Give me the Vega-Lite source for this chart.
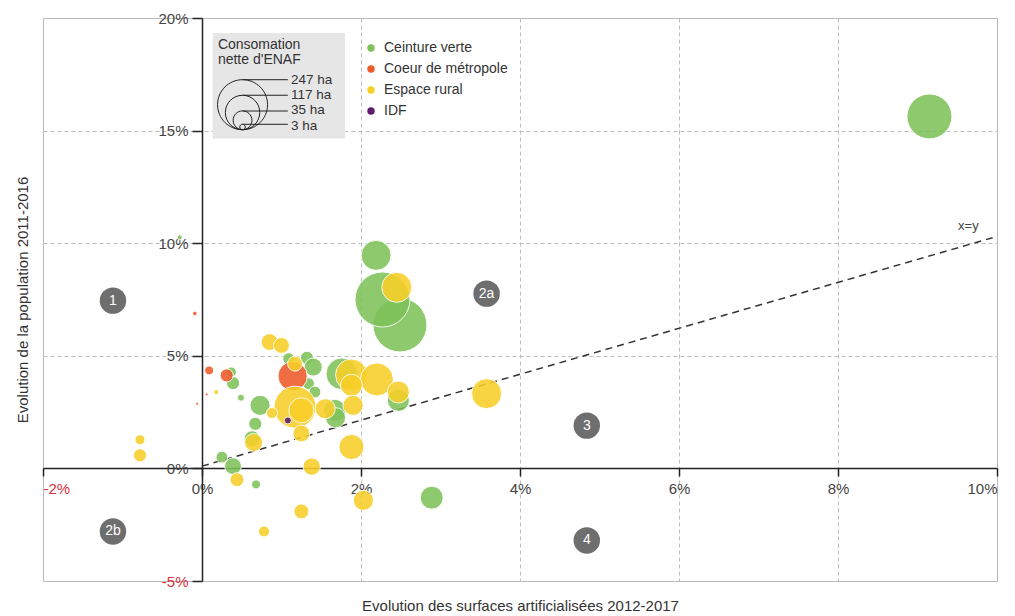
{
  "$schema": "https://vega.github.io/schema/vega-lite/v6.json",
  "width": 954,
  "height": 563,
  "autosize": {"type": "none"},
  "padding": {"left": 43, "top": 18, "right": 18, "bottom": 35},
  "background": "white",
  "config": {
    "font": "Liberation Sans",
    "view": {"stroke": "#b4b4b4", "strokeWidth": 1}
  },
  "datasets": {
    "communes": [
      {"x": 2.49, "y": 6.37, "ha": 288, "zone": "Ceinture verte"},
      {"x": 2.27, "y": 7.5, "ha": 299, "zone": "Ceinture verte"},
      {"x": 9.15, "y": 15.63, "ha": 200, "zone": "Ceinture verte"},
      {"x": 2.19, "y": 9.46, "ha": 89, "zone": "Ceinture verte"},
      {"x": -0.28, "y": 10.26, "ha": 2.5, "zone": "Ceinture verte"},
      {"x": 0.37, "y": 4.28, "ha": 10, "zone": "Ceinture verte"},
      {"x": 0.39, "y": 3.79, "ha": 17, "zone": "Ceinture verte"},
      {"x": 0.49, "y": 3.14, "ha": 5, "zone": "Ceinture verte"},
      {"x": 0.73, "y": 2.8, "ha": 40, "zone": "Ceinture verte"},
      {"x": 1.09, "y": 4.87, "ha": 14, "zone": "Ceinture verte"},
      {"x": 1.32, "y": 4.91, "ha": 17, "zone": "Ceinture verte"},
      {"x": 1.4, "y": 4.5, "ha": 32, "zone": "Ceinture verte"},
      {"x": 1.34, "y": 3.76, "ha": 14, "zone": "Ceinture verte"},
      {"x": 1.42, "y": 3.39, "ha": 14, "zone": "Ceinture verte"},
      {"x": 1.76, "y": 4.2, "ha": 100, "zone": "Ceinture verte"},
      {"x": 1.67, "y": 2.58, "ha": 48, "zone": "Ceinture verte"},
      {"x": 1.68, "y": 2.25, "ha": 40, "zone": "Ceinture verte"},
      {"x": 0.67, "y": 1.98, "ha": 17, "zone": "Ceinture verte"},
      {"x": 0.63, "y": 1.32, "ha": 25, "zone": "Ceinture verte"},
      {"x": 2.47, "y": 3.02, "ha": 48, "zone": "Ceinture verte"},
      {"x": 2.89, "y": -1.3, "ha": 52, "zone": "Ceinture verte"},
      {"x": 0.25, "y": 0.5, "ha": 14, "zone": "Ceinture verte"},
      {"x": 0.39, "y": 0.1, "ha": 28, "zone": "Ceinture verte"},
      {"x": 0.68, "y": -0.71, "ha": 8, "zone": "Ceinture verte"},
      {"x": -0.09, "y": 6.88, "ha": 2, "zone": "Coeur de métropole"},
      {"x": 0.09, "y": 4.35, "ha": 8, "zone": "Coeur de métropole"},
      {"x": 0.31, "y": 4.13, "ha": 17, "zone": "Coeur de métropole"},
      {"x": 0.06, "y": 3.29, "ha": 0.9, "zone": "Coeur de métropole"},
      {"x": -0.06, "y": 2.87, "ha": 0.9, "zone": "Coeur de métropole"},
      {"x": 1.14, "y": 4.1, "ha": 85, "zone": "Coeur de métropole"},
      {"x": -0.78, "y": 1.27, "ha": 10, "zone": "Espace rural"},
      {"x": -0.78, "y": 0.58, "ha": 17, "zone": "Espace rural"},
      {"x": 0.85, "y": 5.61, "ha": 28, "zone": "Espace rural"},
      {"x": 1.0, "y": 5.46, "ha": 25, "zone": "Espace rural"},
      {"x": 0.18, "y": 3.39, "ha": 2.5, "zone": "Espace rural"},
      {"x": 1.17, "y": 4.65, "ha": 22, "zone": "Espace rural"},
      {"x": 1.88, "y": 4.15, "ha": 100, "zone": "Espace rural"},
      {"x": 2.2, "y": 3.95, "ha": 107, "zone": "Espace rural"},
      {"x": 1.88, "y": 3.69, "ha": 48, "zone": "Espace rural"},
      {"x": 2.45, "y": 8.04, "ha": 89, "zone": "Espace rural"},
      {"x": 2.47, "y": 3.39, "ha": 48, "zone": "Espace rural"},
      {"x": 3.58, "y": 3.32, "ha": 89, "zone": "Espace rural"},
      {"x": 1.17, "y": 2.72, "ha": 174, "zone": "Espace rural"},
      {"x": 1.25, "y": 2.58, "ha": 62, "zone": "Espace rural"},
      {"x": 0.88, "y": 2.46, "ha": 12, "zone": "Espace rural"},
      {"x": 1.55, "y": 2.65, "ha": 40, "zone": "Espace rural"},
      {"x": 1.9, "y": 2.8, "ha": 40, "zone": "Espace rural"},
      {"x": 1.25, "y": 1.55, "ha": 28, "zone": "Espace rural"},
      {"x": 0.65, "y": 1.15, "ha": 32, "zone": "Espace rural"},
      {"x": 1.88, "y": 0.95, "ha": 62, "zone": "Espace rural"},
      {"x": 1.38, "y": 0.08, "ha": 30, "zone": "Espace rural"},
      {"x": 2.03, "y": -1.42, "ha": 40, "zone": "Espace rural"},
      {"x": 1.25, "y": -1.91, "ha": 22, "zone": "Espace rural"},
      {"x": 0.78, "y": -2.8, "ha": 12, "zone": "Espace rural"},
      {"x": 0.44, "y": -0.5, "ha": 19, "zone": "Espace rural"},
      {"x": 1.08, "y": 2.13, "ha": 5, "zone": "IDF"}
    ],
    "diagonal": [
      {"x": 0, "y": 0.1},
      {"x": 10, "y": 10.3}
    ],
    "zones": [
      {"x": -1.12, "y": 7.45, "label": "1"},
      {"x": 3.58, "y": 7.76, "label": "2a"},
      {"x": -1.12, "y": -2.8, "label": "2b"},
      {"x": 4.84, "y": 1.9, "label": "3"},
      {"x": 4.84, "y": -3.2, "label": "4"}
    ],
    "sizeKeyBox": [
      {"x": 0.135, "x2": 1.8, "y": 19.33, "y2": 14.65}
    ],
    "sizeKeyTitle": [
      {"x": 0.2, "y": 18.78, "label": "Consomation"},
      {"x": 0.2, "y": 18.12, "label": "nette d'ENAF"}
    ],
    "sizeKeyCircles": [
      {"x": 0.51, "y": 15.04, "ha": 247},
      {"x": 0.51, "y": 15.04, "ha": 117},
      {"x": 0.51, "y": 15.04, "ha": 35},
      {"x": 0.51, "y": 15.04, "ha": 3}
    ],
    "sizeKeyLeaders": [
      {"x": 0.51, "x2": 1.08, "y": 17.26},
      {"x": 0.51, "x2": 1.08, "y": 16.57},
      {"x": 0.51, "x2": 1.08, "y": 15.87},
      {"x": 0.51, "x2": 1.08, "y": 15.28}
    ],
    "sizeKeyLabels": [
      {"x": 1.12, "y": 17.26, "label": "247 ha"},
      {"x": 1.12, "y": 16.57, "label": "117 ha"},
      {"x": 1.12, "y": 15.92, "label": "35 ha"},
      {"x": 1.12, "y": 15.2, "label": "3 ha"}
    ],
    "diagonalLabel": [
      {"x": 9.64, "y": 10.75, "label": "x=y"}
    ]
  },
  "encoding": {
    "x": {
      "field": "x",
      "type": "quantitative",
      "scale": {"domain": [-2, 10], "nice": false, "zero": false},
      "axis": {
        "title": "Evolution des surfaces artificialisées 2012-2017",
        "values": [-2, 0, 2, 4, 6, 8, 10],
        "labelExpr": "datum.value + '%'",
        "offset": -113,
        "grid": true,
        "gridColor": "#bdbdbd",
        "gridDash": [4, 3],
        "gridWidth": 1,
        "domainColor": "#222222",
        "domainWidth": 1.5,
        "tickColor": "#222222",
        "tickSize": 8,
        "tickWidth": 1.5,
        "labelFontSize": 15,
        "labelPadding": 5,
        "labelColor": {"condition": {"test": "datum.value < 0", "value": "#d8303f"}, "value": "#444444"},
        "titleFontSize": 15,
        "titleFontWeight": "normal",
        "titleColor": "#333333",
        "titleBaseline": "top",
        "titleY": 130
      }
    },
    "y": {
      "field": "y",
      "type": "quantitative",
      "scale": {"domain": [-5, 20], "nice": false, "zero": false},
      "axis": {
        "title": "Evolution de la population 2011-2016",
        "values": [-5, 0, 5, 10, 15, 20],
        "labelExpr": "datum.value + '%'",
        "offset": -159,
        "grid": true,
        "gridColor": "#bdbdbd",
        "gridDash": [4, 3],
        "gridWidth": 1,
        "domainColor": "#222222",
        "domainWidth": 1.5,
        "tickColor": "#222222",
        "tickSize": 10,
        "tickWidth": 1.5,
        "labelFontSize": 15,
        "labelPadding": 4,
        "labelColor": {"condition": {"test": "datum.value < 0", "value": "#d8303f"}, "value": "#444444"},
        "titleFontSize": 15,
        "titleFontWeight": "normal",
        "titleColor": "#333333",
        "titleAngle": -90,
        "titleBaseline": "bottom",
        "titleX": -172,
        "titleY": 281.5
      }
    }
  },
  "layer": [
    {
      "data": {"name": "diagonal"},
      "mark": {"type": "line", "color": "#333333", "strokeWidth": 1.5, "strokeDash": [7, 5]},
      "encoding": {}
    },
    {
      "data": {"name": "diagonalLabel"},
      "mark": {"type": "text", "fontSize": 13, "color": "#444444", "align": "center", "baseline": "middle"},
      "encoding": {"text": {"field": "label"}}
    },
    {
      "data": {"name": "sizeKeyBox"},
      "mark": {"type": "rect", "color": "#e6e6e6"},
      "encoding": {"x2": {"field": "x2"}, "y2": {"field": "y2"}}
    },
    {
      "data": {"name": "communes"},
      "mark": {"type": "point", "shape": "circle", "filled": true, "opacity": 0.88, "stroke": "white", "strokeWidth": 1},
      "encoding": {
        "color": {
          "field": "zone",
          "type": "nominal",
          "scale": {
            "domain": ["Ceinture verte", "Coeur de métropole", "Espace rural", "IDF"],
            "range": ["#7fc25a", "#ee5a2a", "#f8cf28", "#5e1b6b"]
          },
          "legend": {
            "title": null,
            "orient": "none",
            "legendX": 321,
            "legendY": 23,
            "symbolType": "circle",
            "symbolSize": 55,
            "symbolOpacity": 1,
            "symbolStrokeWidth": 0,
            "labelFontSize": 14,
            "labelColor": "#333333",
            "labelOffset": 6,
            "rowPadding": 7
          }
        },
        "size": {
          "field": "ha",
          "type": "quantitative",
          "scale": {"type": "linear", "domain": [0, 247], "range": [0, 2500], "zero": true},
          "legend": null
        },
        "stroke": {"value": "white"}
      }
    },
    {
      "data": {"name": "sizeKeyTitle"},
      "mark": {"type": "text", "fontSize": 14, "color": "#333333", "align": "left", "baseline": "middle"},
      "encoding": {"text": {"field": "label"}}
    },
    {
      "data": {"name": "sizeKeyCircles"},
      "mark": {
        "type": "point",
        "filled": false,
        "shape": "M-1,-1A1,1,0,1,0,1,-1A1,1,0,1,0,-1,-1Z",
        "color": "#222222",
        "strokeWidth": 1,
        "opacity": 1
      },
      "encoding": {
        "size": {
          "field": "ha",
          "type": "quantitative",
          "scale": {"type": "linear", "domain": [0, 247], "range": [0, 2500], "zero": true},
          "legend": null
        }
      }
    },
    {
      "data": {"name": "sizeKeyLeaders"},
      "mark": {"type": "rule", "color": "#222222", "strokeWidth": 1},
      "encoding": {"x2": {"field": "x2"}}
    },
    {
      "data": {"name": "sizeKeyLabels"},
      "mark": {"type": "text", "fontSize": 13.5, "color": "#333333", "align": "left", "baseline": "middle"},
      "encoding": {"text": {"field": "label"}}
    },
    {
      "data": {"name": "zones"},
      "mark": {"type": "point", "shape": "circle", "filled": true, "size": 700, "color": "#6e6e6e", "opacity": 1},
      "encoding": {}
    },
    {
      "data": {"name": "zones"},
      "mark": {"type": "text", "fontSize": 14, "color": "white", "align": "center", "baseline": "middle"},
      "encoding": {"text": {"field": "label"}}
    }
  ]
}
